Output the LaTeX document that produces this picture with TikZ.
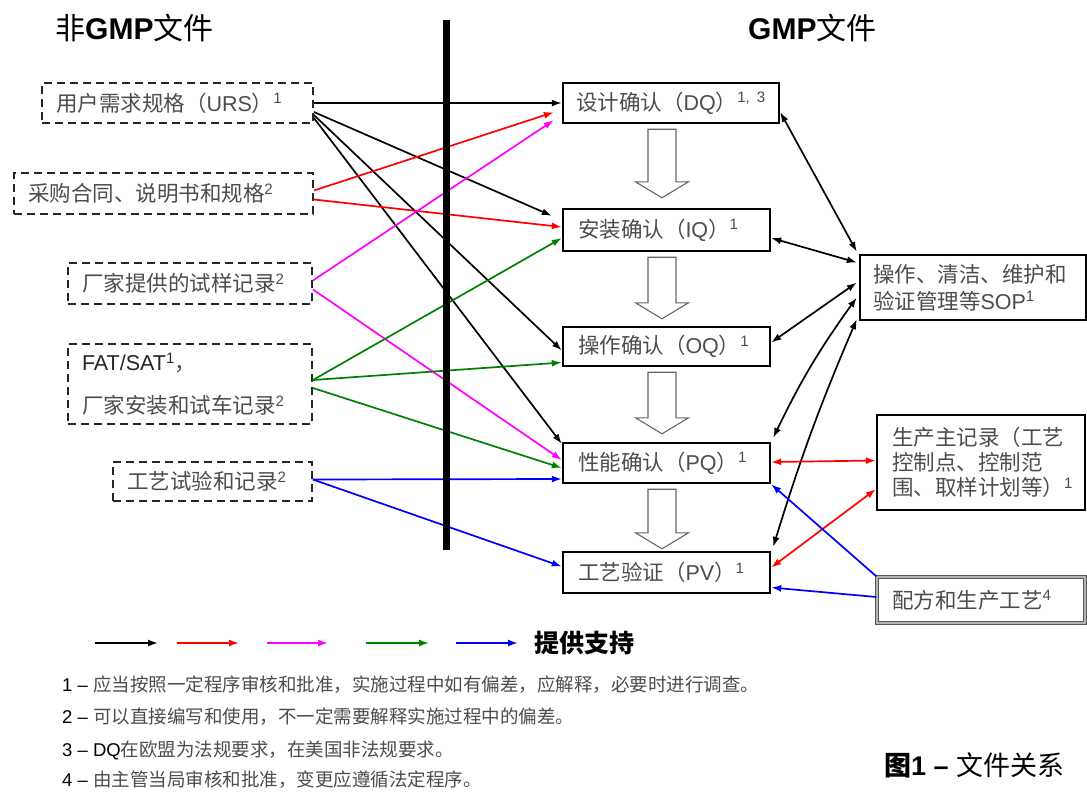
\documentclass[tikz,border=0pt]{standalone}
\usepackage{fontspec}
\setmainfont{Liberation Sans}
\newfontfamily\cjk{Noto Sans CJK SC}
\usetikzlibrary{arrows.meta,calc}
\newcommand\zhs[1]{{\cjk #1}}
\newcommand\sups[1]{\textsuperscript{#1}}
\newcommand\bodyfont{\fontsize{21.5}{27}\selectfont}
\definecolor{mred}{RGB}{255,0,0}
\definecolor{mmag}{RGB}{255,0,255}
\definecolor{mgrn}{RGB}{0,128,0}
\definecolor{mblu}{RGB}{0,0,255}
\newcommand\blockarr[3]{%
  \draw[barrow] let \p1=(#1.south), \p2=(#2.north) in
  (\x2-18.5pt,\y1-5pt) -- (\x2+9.5pt,\y1-5pt) -- (\x2+9.5pt,\y2+#3pt+16pt)
  -- (\x2+22pt,\y2+#3pt+16pt) -- (\x2-4.5pt,\y2+#3pt) -- (\x2-31pt,\y2+#3pt+16pt)
  -- (\x2-18.5pt,\y2+#3pt+16pt) -- cycle;}
\tikzset{
  lbox/.style={draw=black!85, dash pattern=on 8pt off 5pt, line width=1.8pt,
    inner xsep=14pt, inner ysep=0pt, align=left, text=black!70, font=\bodyfont},
  rbox/.style={draw=black, line width=2.4pt, inner xsep=15pt, inner ysep=0pt,
    align=left, text=black!70, font=\bodyfont},
  tip/.style={-{Latex[length=10pt,width=7pt]}},
  con/.style={line width=1.7pt, tip},
  bicon/.style={line width=1.7pt, {Latex[length=10pt,width=7pt]}-{Latex[length=10pt,width=7pt]}},
  barrow/.style={draw=black!60, fill=white, line width=1.1pt, line join=miter},
  fn/.style={anchor=west, inner sep=0pt, font=\fontsize{18.5}{22}\selectfont, text=black},
  head/.style={anchor=west, inner sep=0pt, font=\fontsize{30}{30}\selectfont, text=black},
}
\begin{document}
\begin{tikzpicture}[x=1pt,y=-1pt]
\useasboundingbox (0,0) rectangle (1087,793);

% headers
\node[head] (hleft) at (55,28) {\zhs{非}\textbf{GMP}\zhs{文件}};
\node[head] (hright) at (748,28) {\textbf{GMP}\zhs{文件}};

% left (non-GMP) boxes
\node[lbox, text width=243pt, minimum height=40pt] (urs) at (177.5,103)
  {\zhs{用户需求规格（}URS\zhs{）}\sups{1}};
\node[lbox, text width=271pt, minimum height=41pt] (buy) at (163.5,193.5)
  {\zhs{采购合同、说明书和规格}\sups{2}};
\node[lbox, text width=216pt, minimum height=41pt] (sample) at (190,283.5)
  {\zhs{厂家提供的试样记录}\sups{2}};
\node[lbox, text width=216pt, minimum height=80pt] (fat) at (190,384)
  {{\color{black!85}FAT/SAT\sups{1}}\zhs{，}\\[16pt]\zhs{厂家安装和试车记录}\sups{2}};
\node[lbox, text width=171pt, minimum height=39pt] (trial) at (212.5,481.5)
  {\zhs{工艺试验和记录}\sups{2}};

% GMP qualification boxes
\node[rbox, text width=190pt, inner xsep=13pt, minimum height=40pt] (dq) at (671,103)
  {\zhs{设计确认（}DQ\zhs{）}\sups{1,~3}};
\node[rbox, text width=177pt, minimum height=42pt] (iq) at (666.5,230)
  {\zhs{安装确认（}IQ\zhs{）}\sups{1}};
\node[rbox, text width=177pt, minimum height=39pt] (oq) at (666.5,346.5)
  {\zhs{操作确认（}OQ\zhs{）}\sups{1}};
\node[rbox, text width=177pt, minimum height=40pt] (pq) at (666.5,463)
  {\zhs{性能确认（}PQ\zhs{）}\sups{1}};
\node[rbox, text width=177pt, minimum height=41pt] (pv) at (666.5,572.5)
  {\zhs{工艺验证（}PV\zhs{）}\sups{1}};

% right boxes
\node[rbox, text width=200pt, inner xsep=13pt, minimum height=65pt] (sop) at (973,287.5)
  {\zhs{操作、清洁、维护和}\\\zhs{验证管理等}SOP\sups{1}};
\node[rbox, text width=178pt, minimum height=95pt, font=\fontsize{21.5}{25}\selectfont] (mbr) at (981,462.5)
  {\zhs{生产主记录（工艺}\\\zhs{控制点、控制范}\\\zhs{围、取样计划等）}\sups{1}};
\node[rbox, line width=1.2pt, draw=black!65, double=black!30, double distance=1.8pt,
  text width=178pt, minimum height=46pt] (recipe) at (981,600)
  {\zhs{配方和生产工艺}\sups{4}};

% block arrows
\blockarr{dq}{iq}{10}
\blockarr{iq}{oq}{7}
\blockarr{oq}{pq}{8}
\blockarr{pq}{pv}{2}

% connectors from non-GMP documents
\draw[con, black] (urs.east) -- (dq.west);
\draw[con, black] ($(urs.east)+(0,9)$) -- ($(iq.north west)+(-10,8)$);
\draw[con, black] ($(urs.east)+(0,12)$) -- ($(oq.west)+(0,4)$);
\draw[con, black] ($(urs.east)+(0,15)$) -- ($(pq.north west)+(0,2)$);

\draw[con, mred] ($(buy.east)+(0,-3)$) -- ($(dq.south west)+(-8,-12)$);
\draw[con, mred] ($(buy.east)+(0,6)$) -- ($(iq.west)+(0,-3)$);

\draw[con, mmag] ($(sample.east)+(0,-3)$) -- ($(dq.south west)+(-8,-4)$);
\draw[con, mmag] ($(sample.east)+(0,6)$) -- ($(pq.west)+(0,-3)$);

\draw[con, mgrn] ($(fat.east)+(0,-4)$) -- ($(iq.west)+(0,8)$);
\draw[con, mgrn] ($(fat.east)+(0,-4)$) -- ($(oq.west)+(0,16)$);
\draw[con, mgrn] ($(fat.east)+(0,4)$) -- ($(pq.west)+(0,5)$);

\draw[con, mblu] ($(trial.east)+(0,-2)$) -- ($(pq.west)+(0,16)$);
\draw[con, mblu] ($(trial.east)+(0,-2)$) -- ($(pv.west)+(0,-6)$);

% SOP links
\draw[bicon, black] ($(dq.east)+(0,9)$) -- ($(sop.north west)+(-2,-2)$);
\draw[bicon, black] ($(iq.east)+(0,8)$) -- ($(sop.west)+(-2,-25)$);
\draw[bicon, black] ($(oq.east)+(0,-4)$) -- ($(sop.west)+(-2,-5)$);
\draw[bicon, black] ($(pq.north east)+(2,-4)$) to[bend left=5] ($(sop.west)+(-2,10)$);
\draw[bicon, black] ($(pv.north east)+(2,-4)$) to[bend left=3] ($(sop.south west)+(-2,-2)$);

% master batch record links
\draw[bicon, mred] ($(pq.east)+(0,-1)$) -- ($(mbr.west)+(0,-2)$);
\draw[bicon, mred] ($(pv.east)+(0,-5)$) -- ($(mbr.south west)+(0,-22)$);

% recipe links
\draw[con, mblu] (recipe.north west) -- (pq.south east);
\draw[con, mblu] ($(recipe.west)+(0,-3)$) -- ($(pv.east)+(0,15)$);

% divider
\coordinate (bartop) at (446,20);
\coordinate (barbot) at (446,550);
\draw[line width=7pt] (bartop) -- (barbot);

% legend
\coordinate (la1) at (95,643);  \coordinate (lb1) at (158,643);
\coordinate (la2) at (177,643); \coordinate (lb2) at (239,643);
\coordinate (la3) at (267,643); \coordinate (lb3) at (328,643);
\coordinate (la4) at (366,643); \coordinate (lb4) at (429,643);
\coordinate (la5) at (456,643); \coordinate (lb5) at (518,643);
\draw[con, black] (la1) -- (lb1);
\draw[con, mred] (la2) -- (lb2);
\draw[con, mmag] (la3) -- (lb3);
\draw[con, mgrn] (la4) -- (lb4);
\draw[con, mblu] (la5) -- (lb5);
\node[anchor=west, inner sep=0pt, font=\fontsize{25}{25}\selectfont\bfseries] (legtxt) at (534,643) {\zhs{提供支持}};

% footnotes
\node[fn] (fn1) at (62,685) {1 – {\color{black!70}\zhs{应当按照一定程序审核和批准，实施过程中如有偏差，应解释，必要时进行调查。}}};
\node[fn] (fn2) at (62,717) {2 – {\color{black!70}\zhs{可以直接编写和使用，不一定需要解释实施过程中的偏差。}}};
\node[fn] (fn3) at (62,750) {3 – DQ{\color{black!70}\zhs{在欧盟为法规要求，在美国非法规要求。}}};
\node[fn] (fn4) at (62,780) {4 – {\color{black!70}\zhs{由主管当局审核和批准，变更应遵循法定程序。}}};

% caption
\node[anchor=west, inner sep=0pt, font=\fontsize{27}{27}\selectfont] (cap) at (884,765)
  {\textbf{\zhs{图}1 –} \zhs{文件关系}};
\end{tikzpicture}
\end{document}
